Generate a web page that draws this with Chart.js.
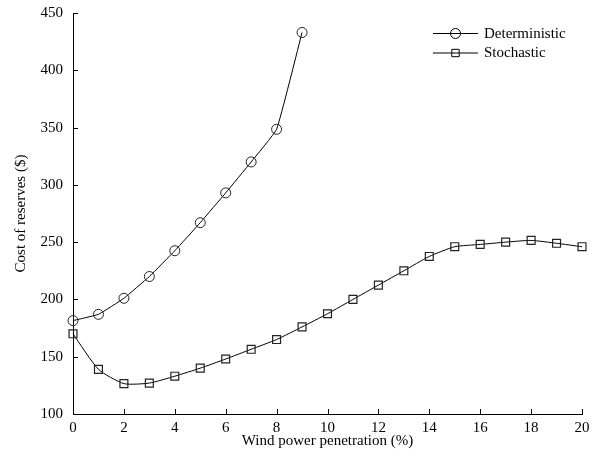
<!DOCTYPE html>
<html>
<head>
<meta charset="utf-8">
<script src="https://cdn.jsdelivr.net/npm/chart.js@4.4.1/dist/chart.umd.min.js"></script>
<style>
  html, body { margin: 0; padding: 0; background: #fff; }
  #wrap { width: 602px; height: 457px; }
</style>
</head>
<body>
<div id="wrap"><canvas id="reserveChart" width="602" height="457"></canvas></div>
<script>
// wind penetration (%) and cost of reserves ($)
const penetrationDet = [0, 1, 2, 3, 4, 5, 6, 7, 8, 9];
const costDeterministic = [181.5, 187, 201, 220, 242.5, 267, 293, 320, 348.5, 433];

const penetrationSto = [0, 1, 2, 3, 4, 5, 6, 7, 8, 9, 10, 11, 12, 13, 14, 15, 16, 17, 18, 19, 20];
const costStochastic = [170, 139, 126.5, 127, 133, 140, 148, 156.5, 165, 176, 187.5, 200, 212.5, 225, 237.5, 246, 248, 250, 251.5, 249, 246];

const xTicks = [0, 2, 4, 6, 8, 10, 12, 14, 16, 18, 20];
const yTicks = [100, 150, 200, 250, 300, 350, 400, 450];

const FONT = '"Liberation Serif", "Times New Roman", serif';

const toPoints = (xs, ys) => xs.map((x, i) => ({ x: x, y: ys[i] }));

// ticks in this figure point inward, so draw them ourselves
const innerTicks = {
  id: 'innerTicks',
  afterDraw(chart) {
    const c = chart.ctx;
    const xs = chart.scales.x, ys = chart.scales.y;
    c.save();
    c.strokeStyle = '#000';
    c.lineWidth = 1;
    c.beginPath();
    xTicks.forEach(v => {
      const px = Math.round(xs.getPixelForValue(v)) + 0.5;
      c.moveTo(px, ys.bottom);
      c.lineTo(px, ys.bottom - 5);
    });
    yTicks.forEach(v => {
      const py = Math.round(ys.getPixelForValue(v)) + 0.5;
      c.moveTo(xs.left, py);
      c.lineTo(xs.left + 5, py);
    });
    c.stroke();
    c.restore();
  }
};

// legend: short line with the marker in the middle
const lineLegend = {
  id: 'lineLegend',
  afterDraw(chart) {
    const c = chart.ctx;
    const rows = [
      { label: 'Deterministic', style: 'circle', radius: 5, y: 33 },
      { label: 'Stochastic', style: 'rect', radius: 5.2, y: 52.5 }
    ];
    c.save();
    rows.forEach(r => {
      c.strokeStyle = '#000';
      c.lineWidth = 1;
      c.beginPath();
      c.moveTo(433, r.y + 0.5);
      c.lineTo(478, r.y + 0.5);
      c.stroke();
      c.fillStyle = 'rgba(0,0,0,0)';
      Chart.helpers.drawPoint(c, { pointStyle: r.style, radius: r.radius, borderWidth: 1 }, 455.5, r.y + 0.5);
      c.fillStyle = '#000';
      c.font = '15px ' + FONT;
      c.textBaseline = 'middle';
      c.fillText(r.label, 484, r.y + 1);
    });
    c.restore();
  }
};

const ctx = document.getElementById('reserveChart').getContext('2d');
const reserveChart = new Chart(ctx, {
  type: 'line',
  data: {
    datasets: [
      {
        label: 'Deterministic',
        data: toPoints(penetrationDet, costDeterministic),
        borderColor: '#000',
        borderWidth: 1,
        backgroundColor: 'rgba(0,0,0,0)',
        pointStyle: 'circle',
        pointRadius: 5,
        pointBorderColor: '#222',
        pointBorderWidth: 1,
        pointBackgroundColor: 'rgba(0,0,0,0)',
        tension: 0.1
      },
      {
        label: 'Stochastic',
        data: toPoints(penetrationSto, costStochastic),
        borderColor: '#000',
        borderWidth: 1,
        backgroundColor: 'rgba(0,0,0,0)',
        pointStyle: 'rect',
        pointRadius: 5.6,
        pointBorderColor: '#222',
        pointBorderWidth: 1.2,
        pointBackgroundColor: 'rgba(0,0,0,0)',
        tension: 0.2
      }
    ]
  },
  options: {
    responsive: false,
    animation: false,
    clip: false,
    layout: { padding: { left: 12, right: 20, top: 13, bottom: 7 } },
    plugins: {
      legend: { display: false },
      tooltip: { enabled: false }
    },
    scales: {
      x: {
        type: 'linear',
        min: 0,
        max: 20,
        afterBuildTicks: s => { s.ticks = xTicks.map(v => ({ value: v })); },
        afterFit: s => { s.height = 36; s.paddingLeft = 0; s.paddingRight = 0; },
        grid: { display: false, drawTicks: false },
        border: { display: true, color: '#000', width: 1 },
        ticks: { color: '#000', font: { family: FONT, size: 15 }, padding: 5, maxRotation: 0 },
        title: { display: true, text: 'Wind power penetration (%)', color: '#000', font: { family: FONT, size: 15 }, padding: { top: 0, bottom: 0 } }
      },
      y: {
        type: 'linear',
        min: 100,
        max: 450,
        afterBuildTicks: s => { s.ticks = yTicks.map(v => ({ value: v })); },
        afterFit: s => { s.width = 61; s.paddingTop = 0; s.paddingBottom = 0; },
        grid: { display: false, drawTicks: false },
        border: { display: true, color: '#000', width: 1 },
        ticks: { color: '#000', font: { family: FONT, size: 15 }, padding: 10 },
        title: { display: true, text: 'Cost of reserves ($)', color: '#000', font: { family: FONT, size: 15 }, padding: { top: 0, bottom: 4 } }
      }
    }
  },
  plugins: [innerTicks, lineLegend]
});
</script>
</body>
</html>
